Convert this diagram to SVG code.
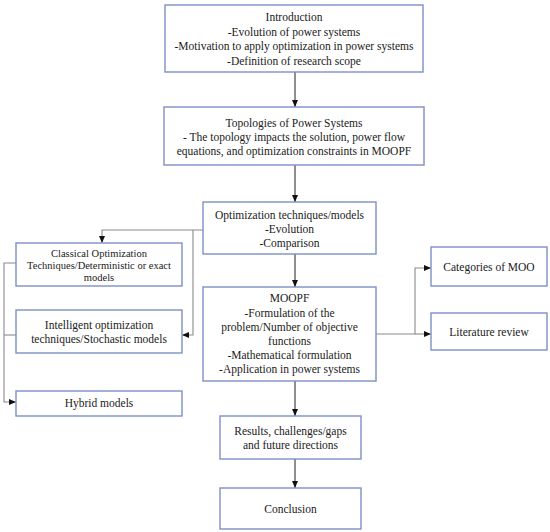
<svg xmlns="http://www.w3.org/2000/svg" width="550" height="532" viewBox="0 0 550 532">
<style>
.box{fill:#fff;stroke:#7f8fc6;stroke-width:1.4}
text{font-family:"Liberation Serif","Times New Roman",serif;font-size:11.5px;fill:#1a1a1a;text-anchor:middle}
.sm{font-size:10.5px}
.c{fill:none;stroke:#8a8a8a;stroke-width:1.1}
.v{fill:none;stroke:#333;stroke-width:1.1}
</style>
<defs>
<marker id="ah" markerUnits="userSpaceOnUse" markerWidth="7" markerHeight="7" viewBox="0 0 7 7" refX="7" refY="3.5" orient="auto">
<path d="M0,0.5 L7,3.5 L0,6.5 Z" fill="#111"/>
</marker>
</defs>
<rect width="550" height="532" fill="#fff"/>
<g id="connectors">
<line class="v" x1="295" y1="72" x2="295" y2="107" marker-end="url(#ah)"/>
<line class="v" x1="295" y1="165" x2="295" y2="202" marker-end="url(#ah)"/>
<line class="v" x1="295" y1="254" x2="295" y2="287" marker-end="url(#ah)"/>
<line class="v" x1="295" y1="381" x2="295" y2="416" marker-end="url(#ah)"/>
<line class="v" x1="295" y1="459" x2="295" y2="488" marker-end="url(#ah)"/>
<polyline class="c" points="203,230 102,230 102,243" marker-end="url(#ah)"/>
<polyline class="c" points="193,230 193,335 182,335" marker-end="url(#ah)"/>
<polyline class="c" points="16,263 4,263 4,402 16,402" marker-end="url(#ah)"/>
<line class="c" x1="4" y1="335" x2="16" y2="335"/>
<polyline class="c" points="376,334 415,334 415,268 431,268" marker-end="url(#ah)"/>
<line class="c" x1="415" y1="334" x2="431" y2="334" marker-end="url(#ah)"/>
</g>
<g id="introduction">
<rect class="box" x="165" y="5" width="258" height="67"/>
<text x="294" y="21">Introduction</text>
<text x="294" y="35.5">-Evolution of power systems</text>
<text x="294" y="50">-Motivation to apply optimization in power systems</text>
<text x="294" y="64.5">-Definition of research scope</text>
</g>
<g id="topologies">
<rect class="box" x="164" y="107" width="260" height="58"/>
<text x="294" y="127">Topologies of Power Systems</text>
<text x="294" y="141">- The topology impacts the solution, power flow</text>
<text x="294" y="155">equations, and optimization constraints in MOOPF</text>
</g>
<g id="optimization">
<rect class="box" x="203" y="202" width="173" height="52"/>
<text x="289.5" y="219">Optimization techniques/models</text>
<text x="289.5" y="233">-Evolution</text>
<text x="289.5" y="247">-Comparison</text>
</g>
<g id="moopf">
<rect class="box" x="203" y="287" width="173" height="94"/>
<text x="289.5" y="302">MOOPF</text>
<text x="289.5" y="316.5">-Formulation of the</text>
<text x="289.5" y="331">problem/Number of objective</text>
<text x="289.5" y="345">functions</text>
<text x="289.5" y="359">-Mathematical formulation</text>
<text x="289.5" y="373">-Application in power systems</text>
</g>
<g id="results">
<rect class="box" x="220" y="416" width="141" height="43"/>
<text x="290.5" y="435">Results, challenges/gaps</text>
<text x="290.5" y="449">and future directions</text>
</g>
<g id="conclusion">
<rect class="box" x="220" y="488" width="141" height="41"/>
<text x="290.5" y="513">Conclusion</text>
</g>
<g id="classical">
<rect class="box" x="16" y="243" width="166" height="43"/>
<text class="sm" x="99" y="256.5">Classical Optimization</text>
<text class="sm" x="99" y="268.5">Techniques/Deterministic or exact</text>
<text class="sm" x="99" y="280.5">models</text>
</g>
<g id="intelligent">
<rect class="box" x="16" y="310" width="166" height="43"/>
<text x="99" y="329">Intelligent optimization</text>
<text x="99" y="343">techniques/Stochastic models</text>
</g>
<g id="hybrid">
<rect class="box" x="16" y="391" width="166" height="25"/>
<text x="99" y="407">Hybrid models</text>
</g>
<g id="categories">
<rect class="box" x="431" y="247" width="116" height="39"/>
<text x="489" y="271">Categories of MOO</text>
</g>
<g id="literature">
<rect class="box" x="431" y="313" width="116" height="37"/>
<text x="489" y="336">Literature review</text>
</g>
</svg>
